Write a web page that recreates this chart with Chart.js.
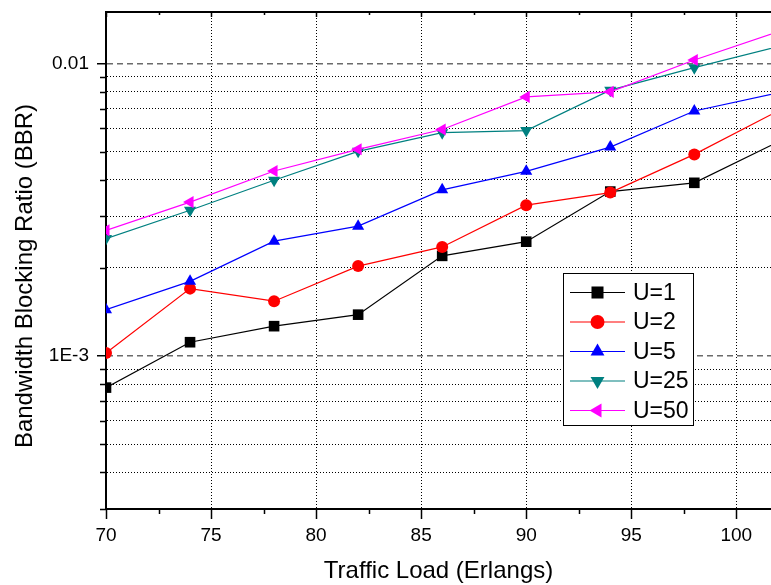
<!DOCTYPE html>
<html>
<head>
<meta charset="utf-8">
<script src="https://cdn.jsdelivr.net/npm/chart.js@4.4.0/dist/chart.umd.min.js"></script>
<style>
  html, body { margin: 0; padding: 0; background: #fff; overflow: hidden; }
  #wrap { width: 771px; height: 585px; position: relative; }
</style>
</head>
<body>
<div id="wrap"><canvas id="bbr"></canvas></div>
<script>
// traffic load values (last point lies just past the cropped right edge)
const loads = [70, 74, 78, 82, 86, 90, 94, 98, 102];

const u1  = [7.8e-4, 1.115e-3, 1.265e-3, 1.385e-3, 2.2e-3, 2.46e-3, 3.65e-3, 3.91e-3, 5.4e-3];
const u2  = [1.025e-3, 1.70e-3, 1.54e-3, 2.03e-3, 2.36e-3, 3.28e-3, 3.62e-3, 4.89e-3, 6.89e-3];
const u5  = [1.44e-3, 1.80e-3, 2.47e-3, 2.78e-3, 3.70e-3, 4.28e-3, 5.18e-3, 6.88e-3, 7.95e-3];
const u25 = [2.52e-3, 3.15e-3, 3.99e-3, 5.01e-3, 5.80e-3, 5.90e-3, 8.11e-3, 9.68e-3, 1.143e-2];
const u50 = [2.69e-3, 3.36e-3, 4.29e-3, 5.09e-3, 5.95e-3, 7.69e-3, 8.0e-3, 1.028e-2, 1.286e-2];

const seriesNames = ['U=1', 'U=2', 'U=5', 'U=25', 'U=50'];
const seriesValues = [u1, u2, u5, u25, u50];

const xTicks = [70, 75, 80, 85, 90, 95, 100];
const xMinorTicks = [72.5, 77.5, 82.5, 87.5, 92.5, 97.5];
const yTicks = [3e-4, 4e-4, 5e-4, 6e-4, 7e-4, 8e-4, 9e-4, 1e-3,
                2e-3, 3e-3, 4e-3, 5e-3, 6e-3, 7e-3, 8e-3, 9e-3, 1e-2];
const yMajorTicks = [1e-3, 1e-2];
const yTickLabels = ['1E-3', '0.01'];
const yTitle = 'Bandwidth Blocking Ratio (BBR)';

const colors = ['#000000', '#ff0000', '#0000ff', '#008080', '#ff00ff'];
const markers = ['rect', 'circle', 'triangle', 'triangle', 'triangle'];
const rotations = [0, 0, 0, 180, -90];
const radii = [7.5, 6, 7, 7, 7];

const FONT = '"Liberation Sans", Arial, sans-serif';

const datasets = seriesNames.map((name, i) => ({
  label: name,
  data: loads.map((x, j) => ({ x: x, y: seriesValues[i][j] })),
  borderColor: colors[i],
  backgroundColor: colors[i],
  borderWidth: 1.2,
  pointStyle: markers[i],
  pointRotation: rotations[i],
  pointRadius: radii[i],
  pointBorderWidth: 0,
  pointBackgroundColor: colors[i],
  tension: 0,
  clip: 0,
  order: seriesNames.length - i
}));

const frame = {
  id: 'frame',
  afterDatasetsDraw(chart) {
    const ctx = chart.ctx;
    const a = chart.chartArea;
    const xs = chart.scales.x, ys = chart.scales.y;
    ctx.save();
    ctx.strokeStyle = '#000';
    ctx.lineWidth = 1.5;
    ctx.setLineDash([]);
    ctx.beginPath();
    // minor ticks bottom (outward) and top (inward)
    xMinorTicks.forEach(v => {
      const p = Math.round(xs.getPixelForValue(v)) + 0.5;
      ctx.moveTo(p, a.bottom); ctx.lineTo(p, a.bottom + 5);
      ctx.moveTo(p, a.top); ctx.lineTo(p, a.top + 3);
    });
    xTicks.forEach(v => {
      const p = Math.round(xs.getPixelForValue(v)) + 0.5;
      ctx.moveTo(p, a.top); ctx.lineTo(p, a.top + 5);
    });
    // minor ticks left (outward)
    yTicks.forEach(v => {
      if (yMajorTicks.includes(v)) return;
      const p = Math.round(ys.getPixelForValue(v)) + 0.5;
      ctx.moveTo(a.left, p); ctx.lineTo(a.left - 6, p);
    });
    ctx.stroke();
    // top frame line
    ctx.lineWidth = 2;
    ctx.beginPath();
    ctx.moveTo(a.left - 1, a.top);
    ctx.lineTo(a.right, a.top);
    ctx.stroke();

    // y axis title
    ctx.save();
    ctx.translate(25, 276);
    ctx.rotate(-Math.PI / 2);
    ctx.font = '24px ' + FONT;
    ctx.fillStyle = '#000';
    ctx.textAlign = 'center';
    ctx.textBaseline = 'middle';
    ctx.fillText(yTitle, 0, 0);
    ctx.restore();

    // legend box
    const bx = 563, by = 273, bw = 130, bh = 152;
    ctx.fillStyle = '#fff';
    ctx.fillRect(bx, by, bw, bh);
    ctx.lineWidth = 1;
    ctx.strokeRect(bx + 0.5, by + 0.5, bw, bh);
    ctx.font = '23px ' + FONT;
    ctx.textBaseline = 'middle';
    ctx.textAlign = 'left';
    seriesNames.forEach((name, i) => {
      const y = by + 19.5 + i * 29.5;
      ctx.strokeStyle = colors[i];
      ctx.lineWidth = 1.2;
      ctx.beginPath();
      ctx.moveTo(bx + 7, y); ctx.lineTo(bx + 62, y);
      ctx.stroke();
      ctx.fillStyle = colors[i];
      Chart.helpers.drawPoint(ctx, {
        pointStyle: markers[i], rotation: rotations[i],
        radius: radii[i] + 1, borderWidth: 0
      }, bx + 34.5, y);
      ctx.fillStyle = '#000';
      ctx.fillText(name, bx + 70, y + 1);
    });
    ctx.restore();
  }
};

new Chart(document.getElementById('bbr'), {
  type: 'line',
  data: { datasets: datasets },
  options: {
    responsive: true,
    maintainAspectRatio: false,
    animation: false,
    layout: { autoPadding: false, padding: { top: 12, right: 0, left: 0, bottom: 0 } },
    plugins: { legend: { display: false }, tooltip: { enabled: false } },
    scales: {
      x: {
        type: 'linear',
        min: 70,
        max: 101.65,
        afterBuildTicks: s => { s.ticks = xTicks.map(v => ({ value: v })); },
        afterFit: s => { s.height = 76; s.paddingLeft = 0; s.paddingRight = 0; },
        ticks: { color: '#000', font: { family: FONT, size: 19 }, padding: 5, maxRotation: 0 },
        grid: {
          color: c => (c.tick && c.tick.value === 70) ? 'rgba(0,0,0,0)' : '#000',
          lineWidth: 1,
          tickLength: 10,
          tickColor: '#000',
          tickWidth: 1.5,
          tickBorderDash: []
        },
        border: { color: '#000', width: 2, dash: [1, 2] },
        title: {
          display: true,
          text: 'Traffic Load (Erlangs)',
          color: '#000',
          font: { family: FONT, size: 24, lineHeight: 1 },
          padding: { top: 0, bottom: 2 }
        }
      },
      y: {
        type: 'logarithmic',
        min: 3e-4,
        max: 0.015,
        afterBuildTicks: s => { s.ticks = yTicks.map(v => ({ value: v })); },
        afterFit: s => { s.width = 106; s.paddingTop = 0; s.paddingBottom = 0; },
        ticks: {
          color: '#000',
          font: { family: FONT, size: 19 },
          padding: 8,
          autoSkip: false,
          callback: v => {
            const k = yMajorTicks.indexOf(v);
            return k >= 0 ? yTickLabels[k] : '';
          }
        },
        grid: {
          color: c => {
            if (!c.tick || c.tick.value === 3e-4) return 'rgba(0,0,0,0)';
            return yMajorTicks.includes(c.tick.value) ? '#6b6b6b' : '#000';
          },
          lineWidth: c => (c.tick && yMajorTicks.includes(c.tick.value)) ? 1.5 : 1,
          tickLength: 9,
          tickColor: c => (c.tick && yMajorTicks.includes(c.tick.value)) ? '#000' : 'rgba(0,0,0,0)',
          tickWidth: 1.5,
          tickBorderDash: []
        },
        border: {
          color: '#000',
          width: 2,
          dash: c => (c.tick && yMajorTicks.includes(c.tick.value)) ? [6, 4] : [1, 2]
        },
        title: { display: false }
      }
    }
  },
  plugins: [frame]
});
</script>
</body>
</html>
